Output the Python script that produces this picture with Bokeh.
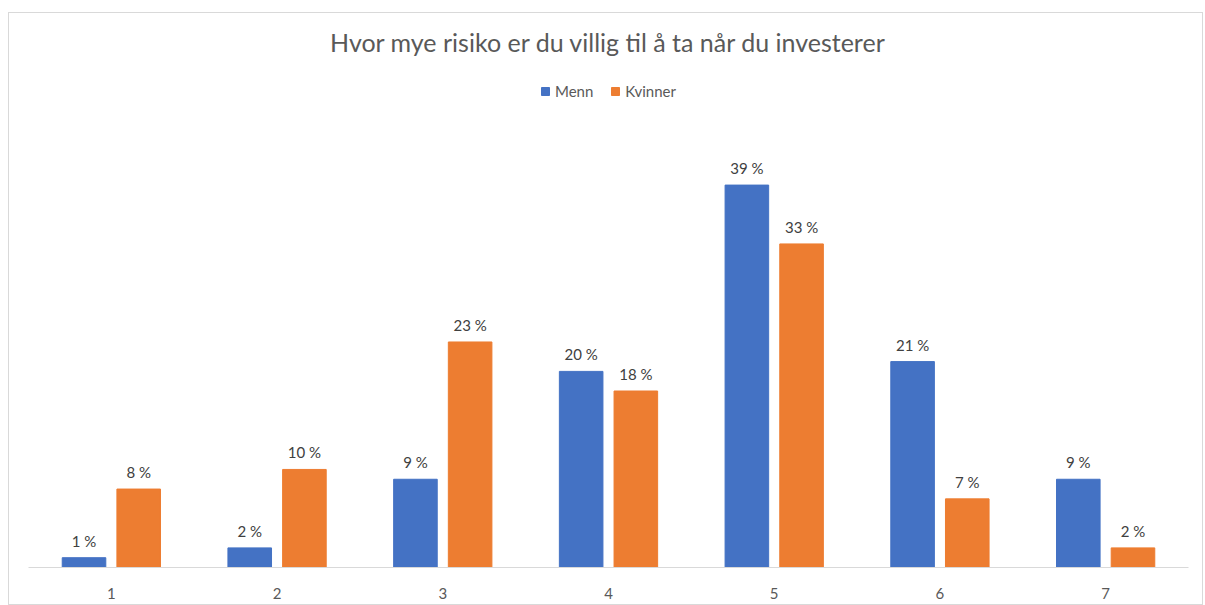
from bokeh.plotting import figure
from bokeh.models import ColumnDataSource, FactorRange, Range1d, Legend, LegendItem, Label
from bokeh.transform import dodge
from bokeh.core.properties import value
from bokeh.embed import file_html
from bokeh.resources import INLINE

categories = ["1", "2", "3", "4", "5", "6", "7"]
menn = [1, 2, 9, 20, 39, 21, 9]
kvinner = [8, 10, 23, 18, 33, 7, 2]
title_text = "Hvor mye risiko er du villig til å ta når du investerer"

FONT = "Lato"
src = ColumnDataSource(dict(
    cat=categories, menn=menn, kvinner=kvinner,
    menn_lbl=[f"{v} %" for v in menn],
    kvinner_lbl=[f"{v} %" for v in kvinner],
))

p = figure(width=1195, height=593, output_backend="svg", toolbar_location=None,
           x_range=FactorRange(factors=categories, range_padding=0),
           y_range=Range1d(0, 56.5),
           min_border_left=19, min_border_right=16, min_border_top=0, min_border_bottom=39)
p.styles = {"border": "1px solid #d9d9d9", "margin-top": "12px", "margin-left": "8px"}
p.outline_line_color = None
p.xgrid.grid_line_color = None
p.ygrid.grid_line_color = None
p.yaxis.visible = False

BLUE = "#4472C4"
ORANGE = "#ED7D31"
W = 0.263
OFF = 0.165
r1 = p.vbar(x=dodge("cat", -OFF, range=p.x_range), top="menn", width=W, source=src,
            fill_color=BLUE, line_color=BLUE)
r2 = p.vbar(x=dodge("cat", OFF, range=p.x_range), top="kvinner", width=W, source=src,
            fill_color=ORANGE, line_color=ORANGE)

for col, off in (("menn", -OFF), ("kvinner", OFF)):
    p.text(x=dodge("cat", off, range=p.x_range), y=col, text=col + "_lbl", source=src,
           text_align="center", text_baseline="bottom", y_offset=-8,
           text_font=value(FONT), text_font_size="15px", text_color="#404040")

p.xaxis.axis_line_color = "#d9d9d9"
p.xaxis.major_tick_line_color = None
p.xaxis.minor_tick_line_color = None
p.xaxis.major_label_text_font = FONT
p.xaxis.major_label_text_font_size = "15px"
p.xaxis.major_label_text_color = "#595959"
p.xaxis.major_label_standoff = 14

title = Label(x=3.5, y=53.6, text=title_text, text_align="center", text_baseline="middle",
              text_font=FONT, text_font_size="25px", text_color="#595959")
p.add_layout(title)

legend = Legend(items=[LegendItem(label="Menn", renderers=[r1]),
                       LegendItem(label="Kvinner", renderers=[r2])],
                orientation="horizontal", location="top_center",
                label_text_font=FONT, label_text_font_size="15px", label_text_color="#595959",
                glyph_width=10, glyph_height=10, spacing=17, label_standoff=5,
                padding=0, margin=69, border_line_color=None, background_fill_alpha=0)
p.add_layout(legend)

open("out.html", "w").write(file_html(p, INLINE))
